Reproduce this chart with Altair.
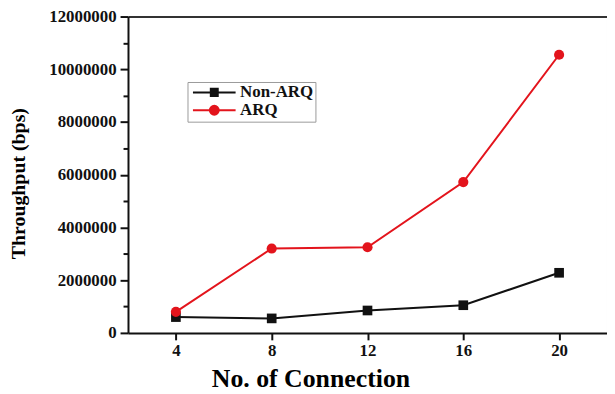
import altair as alt
import pandas as pd

# ---- data ----
connections = [4, 8, 12, 16, 20]
non_arq = [600000, 550000, 850000, 1050000, 2280000]
arq = [800000, 3200000, 3250000, 5720000, 10550000]
series_names = ["Non-ARQ", "ARQ"]
series_colors = ["#111111", "#e3141c"]
x_ticks = [4, 8, 12, 16, 20]
y_ticks = [0, 2000000, 4000000, 6000000, 8000000, 10000000, 12000000]
y_minor = [1000000, 3000000, 5000000, 7000000, 9000000, 11000000]

rows = []
for name, vals in zip(series_names, [non_arq, arq]):
    for c, v in zip(connections, vals):
        rows.append({"conn": c, "thr": v, "series": name})
df = pd.DataFrame(rows)

FONT = "Liberation Serif"
xs = alt.Scale(domain=[2, 22], nice=False, zero=False)
ys = alt.Scale(domain=[0, 12000000], nice=False)
# colour scale for the drawn marks (domain listed in reverse so that its hidden
# legend is not merged with the visible legend built below)
color_scale = alt.Scale(domain=series_names[::-1], range=series_colors[::-1])

# legend symbols: line + marker, in symbol units (1 unit = 5px with symbolSize 100)
sq_path = "M-1,0H7.6M2.6,-0.75H4.0V0.75H2.6Z"
circ_path = "M-1,0H7.6M2.4,0A0.9,0.9 0 1,0 4.2,0A0.9,0.9 0 1,0 2.4,0Z"

base = alt.Chart(df)

frame = base.mark_point(opacity=0).encode(
    x=alt.X("conn:Q", scale=xs, axis=alt.Axis(orient="top", labels=False, ticks=False,
                                              title=None, grid=False, domainColor="#333333",
                                              domainWidth=2)),
    y=alt.Y("thr:Q", scale=ys, axis=alt.Axis(orient="right", labels=False, ticks=False,
                                             title=None, grid=False, domainColor="#aaaaaa",
                                             domainWidth=1)),
)

minor = base.mark_point(opacity=0).encode(
    x=alt.X("conn:Q", scale=xs, axis=None),
    y=alt.Y("thr:Q", scale=ys, axis=alt.Axis(orient="left", values=y_minor, labels=False,
                                             title=None, grid=False, domain=False,
                                             tickSize=5, tickWidth=2, tickColor="#111111")),
)

lines = base.mark_line(strokeWidth=2).encode(
    x=alt.X("conn:Q", scale=xs, axis=alt.Axis(
        values=x_ticks, title="No. of Connection", grid=False,
        domainColor="#111111", domainWidth=2, tickColor="#111111", tickWidth=2, tickSize=7,
        labelFont=FONT, labelFontWeight="bold", labelFontSize=17, labelColor="#111111",
        labelPadding=3,
        titleFont=FONT, titleFontWeight="bold", titleFontSize=26, titleColor="#000000",
        titleX=184, titleY=54, titleAlign="center", titleBaseline="alphabetic")),
    y=alt.Y("thr:Q", scale=ys, axis=alt.Axis(
        values=y_ticks, format="d", title="Throughput (bps)", grid=False,
        domainColor="#111111", domainWidth=2, tickColor="#111111", tickWidth=2, tickSize=8,
        labelFont=FONT, labelFontWeight="bold", labelFontSize=17, labelColor="#111111",
        labelPadding=4,
        titleFont=FONT, titleFontWeight="bold", titleFontSize=20, titleColor="#000000",
        titleAngle=270, titleX=-110, titleY=168, titleAlign="center", titleBaseline="middle")),
    color=alt.Color("series:N", scale=color_scale, legend=None),
)

squares = base.transform_filter(alt.datum.series == "Non-ARQ").mark_point(
    shape="square", filled=True, size=95, opacity=1).encode(
    x=alt.X("conn:Q", scale=xs, axis=None),
    y=alt.Y("thr:Q", scale=ys, axis=None),
    color=alt.Color("series:N", scale=color_scale, legend=None),
)

circles = base.transform_filter(alt.datum.series == "ARQ").mark_point(
    shape="circle", filled=True, size=105, opacity=1).encode(
    x=alt.X("conn:Q", scale=xs, axis=None),
    y=alt.Y("thr:Q", scale=ys, axis=None),
    color=alt.Color("series:N", scale=color_scale, legend=None),
)

leg = alt.Legend(orient="none", legendX=60, legendY=66, title=None,
                 strokeColor="#9a9a9a", fillColor="white", padding=2,
                 symbolSize=100, symbolStrokeWidth=2, symbolOpacity=1,
                 labelFont=FONT, labelFontWeight="bold", labelFontSize=17,
                 labelColor="#111111", labelOffset=34, rowPadding=0)

# legend-only layer: no rows drawn (filtered out), entries come from the scale domains
legend_layer = base.transform_filter("false").mark_point(filled=True).encode(
    x=alt.X("conn:Q", scale=xs, axis=None),
    y=alt.Y("thr:Q", scale=ys, axis=None),
    fill=alt.Fill("series:N", scale=alt.Scale(domain=series_names, range=series_colors), legend=leg),
    stroke=alt.Stroke("series:N", scale=alt.Scale(domain=series_names, range=series_colors), legend=leg),
    shape=alt.Shape("series:N", scale=alt.Scale(domain=series_names, range=[sq_path, circ_path]), legend=leg),
)

chart = alt.layer(frame, minor, lines, squares, circles, legend_layer).resolve_axis(
    x="independent", y="independent"
).properties(
    width=483, height=319,
    padding={"left": 121, "top": 7, "right": 0, "bottom": 60},
    autosize=alt.AutoSizeParams(type="none"),
    background="white",
).configure_view(stroke=None)

chart.save("out.html", embed_options={"renderer": "svg", "actions": False})
